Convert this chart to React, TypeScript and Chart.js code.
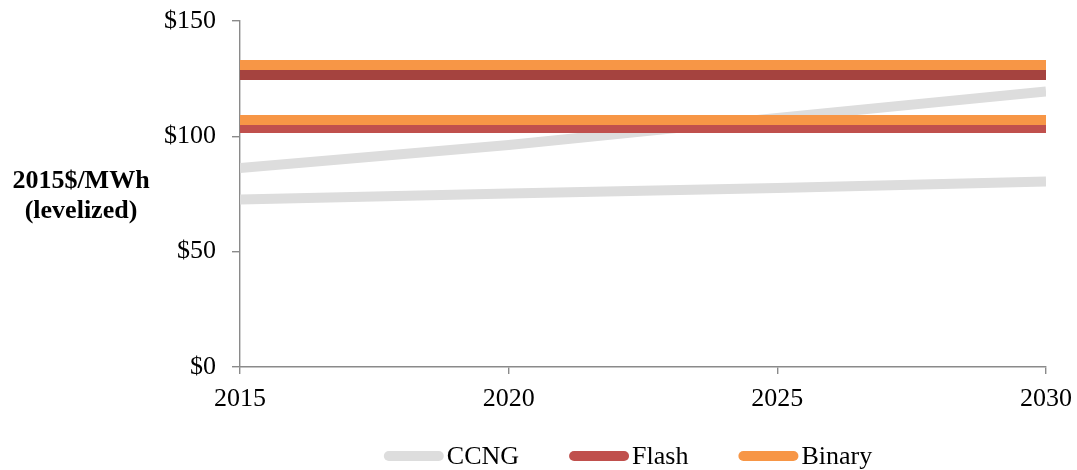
import React, { useEffect, useRef } from "react";
import { Chart, registerables } from "chart.js";

Chart.register(...registerables);

const years = [2015, 2020, 2025, 2030];
const ccngHigh = [86.3, 96.2, 108, 119.4];
const ccngLow = [72.6, 75.2, 77.6, 80.4];
const flashHigh = [126.6, 126.6, 126.6, 126.6];
const flashLow = [103.6, 103.6, 103.6, 103.6];
const binaryHigh = [130.9, 130.9, 130.9, 130.9];
const binaryLow = [107.1, 107.1, 107.1, 107.1];
const yTicks = [0, 50, 100, 150];
const xTicks = [2015, 2020, 2025, 2030];
const legendNames = ["CCNG", "Flash", "Binary"];
const yTitle = ["2015$/MWh", "(levelized)"];

const GRAY = "#dddddd";
const RED_DARK = "#a5433f";
const RED = "#c0504d";
const ORANGE = "#f79646";
const AXIS = "#8a8a8a";
const FONT = '"Liberation Serif", "Times New Roman", serif';
const legendColors = [GRAY, RED, ORANGE];

const pts = (vals: number[]) => years.map((x, i) => ({ x, y: vals[i] }));

export default function App() {
  const ref = useRef<HTMLCanvasElement | null>(null);
  useEffect(() => {
    if (!ref.current) return;
    const line = (label: string, vals: number[], color: string) => ({
      label,
      data: pts(vals),
      borderColor: color,
      backgroundColor: color,
      borderWidth: 10,
      borderCapStyle: "butt" as const,
      pointRadius: 0,
      tension: 0,
      fill: false,
    });
    const extras = {
      id: "extras",
      afterDraw(chart: any) {
        const ctx = chart.ctx;
        ctx.save();
        // y axis title (horizontal)
        ctx.font = `bold 26px ${FONT}`;
        ctx.fillStyle = "#000";
        ctx.textAlign = "center";
        ctx.textBaseline = "alphabetic";
        ctx.fillText(yTitle[0], 81, 188);
        ctx.fillText(yTitle[1], 81, 218);
        // legend
        ctx.font = `26px ${FONT}`;
        const lineLen = 60;
        const textGap = 3;
        const itemGap = 50;
        const widths = legendNames.map((n) => ctx.measureText(n).width);
        const total =
          widths.reduce((a: number, b: number) => a + b, 0) +
          legendNames.length * (lineLen + textGap) +
          (legendNames.length - 1) * itemGap;
        const cx = (chart.chartArea.left + chart.chartArea.right) / 2 - 15;
        let x = cx - total / 2;
        const cy = 456;
        ctx.textAlign = "left";
        ctx.textBaseline = "middle";
        legendNames.forEach((n, i) => {
          ctx.strokeStyle = legendColors[i];
          ctx.lineWidth = 10;
          ctx.lineCap = "round";
          ctx.beginPath();
          ctx.moveTo(x + 5, cy);
          ctx.lineTo(x + lineLen - 5, cy);
          ctx.stroke();
          ctx.fillStyle = "#000";
          ctx.fillText(n, x + lineLen + textGap, cy + 1);
          x += lineLen + textGap + widths[i] + itemGap;
        });
        ctx.restore();
      },
    };
    const chart = new Chart(ref.current, {
      type: "line",
      data: {
        datasets: [
          line("Binary", binaryHigh, ORANGE),
          line("Binary", binaryLow, ORANGE),
          line("Flash", flashHigh, RED_DARK),
          line("Flash", flashLow, RED),
          line("CCNG", ccngHigh, GRAY),
          line("CCNG", ccngLow, GRAY),
        ],
      },
      options: {
        animation: false,
        responsive: true,
        maintainAspectRatio: false,
        layout: { padding: { left: 0, right: 31, top: 21, bottom: 53 } },
        plugins: {
          tooltip: { enabled: false },
          legend: { display: false },
        },
        scales: {
          x: {
            type: "linear",
            min: 2015,
            max: 2030,
            afterBuildTicks: (s: any) => {
              s.ticks = xTicks.map((v) => ({ value: v }));
            },
            afterFit: (s: any) => {
              s.height = 50;
              s.paddingLeft = 0;
              s.paddingRight = 0;
            },
            border: { display: true, color: AXIS, width: 1.4 },
            grid: { drawOnChartArea: false, drawTicks: true, tickLength: 7, color: AXIS, lineWidth: 1.4 },
            ticks: {
              padding: 10,
              color: "#000",
              font: { family: FONT, size: 26 },
              maxRotation: 0,
              callback: (v: any) => String(v),
            },
          },
          y: {
            min: 0,
            max: 150,
            afterBuildTicks: (s: any) => {
              s.ticks = yTicks.map((v) => ({ value: v }));
            },
            afterFit: (s: any) => {
              s.width = 240;
              s.paddingTop = 0;
              s.paddingBottom = 0;
            },
            border: { display: true, color: AXIS, width: 1.4 },
            grid: { drawOnChartArea: false, drawTicks: true, tickLength: 8, color: AXIS, lineWidth: 1.4 },
            ticks: {
              padding: 16,
              color: "#000",
              font: { family: FONT, size: 26 },
              callback: (v: any) => "$" + v,
            },
          },
        },
      },
      plugins: [extras],
    });
    return () => chart.destroy();
  }, []);
  return (
    <div style={{ position: "fixed", left: 0, top: 0, width: 1077, height: 470, background: "#fff" }}>
      <canvas ref={ref} />
    </div>
  );
}
